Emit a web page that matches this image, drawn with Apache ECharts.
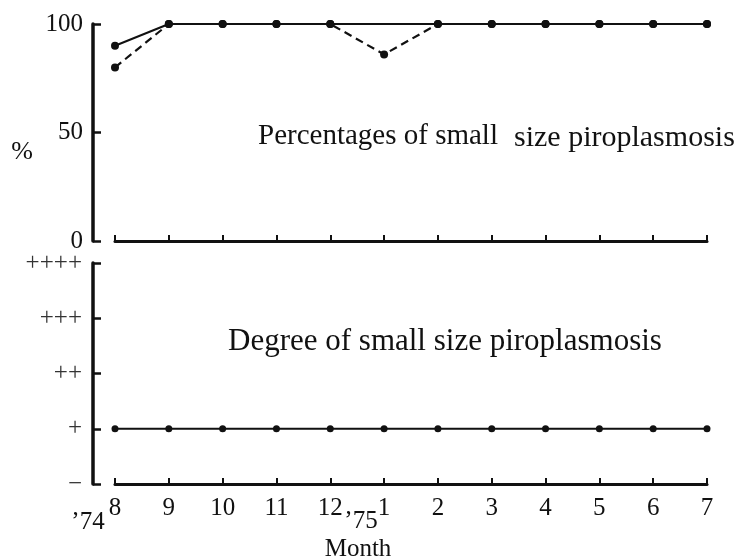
<!DOCTYPE html>
<html>
<head>
<meta charset="utf-8">
<script src="https://cdn.jsdelivr.net/npm/echarts@6/dist/echarts.min.js"></script>
<style>
html,body{margin:0;padding:0;background:#fff;}
#chart{width:747px;height:560px;}
</style>
</head>
<body>
<div id="chart"></div>
<script>
// ---- data ----
const months = ['8','9','10','11','12','1','2','3','4','5','6','7'];
const pctSolid = [90,100,100,100,100,100,100,100,100,100,100,100];
const pctDashed = [80,100,100,100,100,86,100,100,100,100,100,100];
const degreeLabels = ['\u2212','+','++','+++','++++'];
const degreeValues = [1,1,1,1,1,1,1,1,1,1,1,1];
const pctTickLabels = ['0','50','100'];
const yearLabels = ['\u201974','\u201975'];
const titleTop = ['Percentages of small','size piroplasmosis'];
const titleBottom = 'Degree of small size piroplasmosis';
const xName = 'Month';
const yName = '%';

// ---- chart ----
const FONT = '"Liberation Serif","Times New Roman",serif';
const INK = '#111';
const chart = echarts.init(document.getElementById('chart'), null, {renderer:'canvas'});

const axisLineStyle = {color: INK, width: 3.5};
const option = {
  backgroundColor: '#fff',
  animation: false,
  grid: [
    {left:115, right:40, top:24, height:217, containLabel:false},
    {left:115, right:40, top:263, height:221, containLabel:false}
  ],
  xAxis: [
    {type:'category', gridIndex:0, data:months, boundaryGap:false,
     axisLine:{show:true, lineStyle:{color:INK, width:3}},
     axisTick:{show:true, inside:true, length:6, lineStyle:{color:INK, width:2}},
     axisLabel:{show:false}, splitLine:{show:false}},
    {type:'category', gridIndex:1, data:months, boundaryGap:false,
     axisLine:{show:true, lineStyle:{color:INK, width:3}},
     axisTick:{show:true, inside:true, length:6, lineStyle:{color:INK, width:2}},
     axisLabel:{show:true, margin:12, color:INK, fontSize:25, fontFamily:FONT},
     splitLine:{show:false}}
  ],
  yAxis: [
    {type:'value', gridIndex:0, min:0, max:100, interval:50, offset:22,
     axisLine:{show:true, lineStyle:axisLineStyle},
     axisTick:{show:true, inside:true, length:8, lineStyle:{color:INK, width:2.5}},
     axisLabel:{show:true, margin:10, color:INK, fontSize:25, fontFamily:FONT,
       formatter:function(v){ return pctTickLabels[Math.round(v/50)]; }},
     splitLine:{show:false}},
    {type:'value', gridIndex:1, min:0, max:4, interval:1, offset:22,
     axisLine:{show:true, lineStyle:axisLineStyle},
     axisTick:{show:true, inside:true, length:8, lineStyle:{color:INK, width:2.5}},
     axisLabel:{show:true, margin:11, color:'#333', fontSize:25, fontFamily:FONT,
       formatter:function(v){ return degreeLabels[Math.round(v)]; }},
     splitLine:{show:false}}
  ],
  series: [
    {type:'line', xAxisIndex:0, yAxisIndex:0, data:pctSolid,
     symbol:function(v, p){ return p.dataIndex === 5 ? 'none' : 'circle'; },
     symbolSize:8, lineStyle:{color:INK, width:2, type:'solid'},
     itemStyle:{color:INK}, z:3},
    {type:'line', xAxisIndex:0, yAxisIndex:0, data:pctDashed,
     symbol:'circle', symbolSize:8, lineStyle:{color:INK, width:2.2, type:[8,5]},
     itemStyle:{color:INK}, z:2},
    {type:'line', xAxisIndex:1, yAxisIndex:1, data:degreeValues,
     symbol:'circle', symbolSize:7, lineStyle:{color:INK, width:1.8},
     itemStyle:{color:INK}, z:3}
  ],
  graphic: [
    {type:'text', x:258, y:136, style:{text:titleTop[0], font:'29px '+FONT, fill:INK, align:'left', verticalAlign:'middle'}},
    {type:'text', x:514, y:138, style:{text:titleTop[1], font:'30px '+FONT, fill:INK, align:'left', verticalAlign:'middle'}},
    {type:'text', x:228, y:342, style:{text:titleBottom, font:'31px '+FONT, fill:INK, align:'left', verticalAlign:'middle'}},
    {type:'text', x:22, y:152, style:{text:yName, font:'26px '+FONT, fill:INK, align:'center', verticalAlign:'middle'}},
    {type:'text', x:88, y:522, style:{text:yearLabels[0], font:'25px '+FONT, fill:INK, align:'center', verticalAlign:'middle'}},
    {type:'text', x:361, y:521, style:{text:yearLabels[1], font:'25px '+FONT, fill:INK, align:'center', verticalAlign:'middle'}},
    {type:'text', x:358, y:549, style:{text:xName, font:'25px '+FONT, fill:INK, align:'center', verticalAlign:'middle'}}
  ]
};
chart.setOption(option);
</script>
</body>
</html>
